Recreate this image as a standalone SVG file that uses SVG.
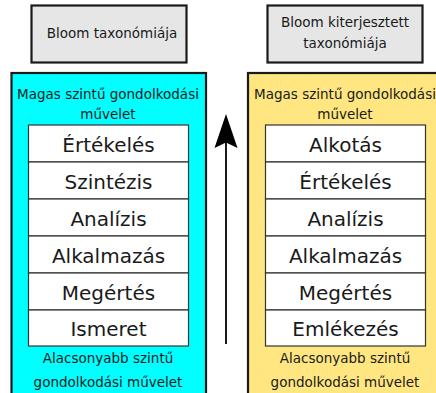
<svg xmlns="http://www.w3.org/2000/svg" width="436" height="393" viewBox="0 0 436 393">
<style>
.title{fill:#e6e6e6;stroke:#1a1a1a;stroke-width:2.2}
.outer{stroke:#1a1a1a;stroke-width:2.2}
.row{fill:#fff;stroke:#333;stroke-width:1.2}
.t{font-family:"DejaVu Sans",sans-serif;font-size:13.5px;fill:#1a1a1a;text-anchor:middle}
.r{font-family:"DejaVu Sans",sans-serif;font-size:20px;fill:#1a1a1a;text-anchor:middle}
</style>
<rect width="436" height="393" fill="#fff"/>
<g id="title-left">
<rect class="title" x="31.5" y="5.5" width="155" height="57"/>
<text class="t" x="112" y="38">Bloom taxonómiája</text>
</g>
<g id="title-right">
<rect class="title" x="267.5" y="5.5" width="155" height="57"/>
<text class="t" x="345" y="27">Bloom kiterjesztett</text>
<text class="t" x="345" y="48">taxonómiája</text>
</g>
<g id="bloom-left">
<rect class="outer" fill="#00ffff" x="11.5" y="73" width="194.5" height="330"/>
<text class="t" x="108" y="99">Magas szintű gondolkodási</text>
<text class="t" x="108" y="119">művelet</text>
<rect class="row" x="28.5" y="125" width="160" height="37"/>
<rect class="row" x="28.5" y="162" width="160" height="37"/>
<rect class="row" x="28.5" y="199" width="160" height="37"/>
<rect class="row" x="28.5" y="236" width="160" height="37"/>
<rect class="row" x="28.5" y="273" width="160" height="37"/>
<rect class="row" x="28.5" y="310" width="160" height="36"/>
<text class="r" x="108.5" y="152">Értékelés</text>
<text class="r" x="108.5" y="189">Szintézis</text>
<text class="r" x="108.5" y="226">Analízis</text>
<text class="r" x="108.5" y="263">Alkalmazás</text>
<text class="r" x="108.5" y="300">Megértés</text>
<text class="r" x="108.5" y="336">Ismeret</text>
<text class="t" x="108" y="363">Alacsonyabb szintű</text>
<text class="t" x="108" y="387">gondolkodási művelet</text>
</g>
<g id="bloom-right">
<rect class="outer" fill="#ffe680" x="248" y="73" width="200" height="330"/>
<text class="t" x="345" y="99">Magas szintű gondolkodási</text>
<text class="t" x="345" y="119">művelet</text>
<rect class="row" x="265.5" y="125" width="160" height="37"/>
<rect class="row" x="265.5" y="162" width="160" height="37"/>
<rect class="row" x="265.5" y="199" width="160" height="37"/>
<rect class="row" x="265.5" y="236" width="160" height="37"/>
<rect class="row" x="265.5" y="273" width="160" height="37"/>
<rect class="row" x="265.5" y="310" width="160" height="36"/>
<text class="r" x="345.5" y="152">Alkotás</text>
<text class="r" x="345.5" y="189">Értékelés</text>
<text class="r" x="345.5" y="226">Analízis</text>
<text class="r" x="345.5" y="263">Alkalmazás</text>
<text class="r" x="345.5" y="300">Megértés</text>
<text class="r" x="345.5" y="336">Emlékezés</text>
<text class="t" x="345" y="363">Alacsonyabb szintű</text>
<text class="t" x="345" y="387">gondolkodási művelet</text>
</g>
<g id="connectors">
<line x1="226" y1="344" x2="226" y2="140" stroke="#1a1a1a" stroke-width="2"/>
<path d="M226 114 L237.5 148 L226 142.5 L214.5 148 Z" fill="#000"/>
</g>
</svg>
